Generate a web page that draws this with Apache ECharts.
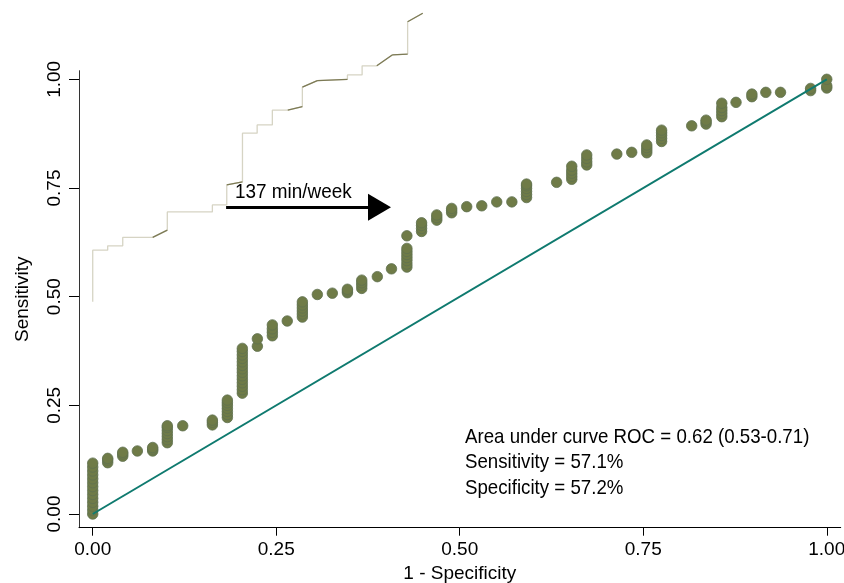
<!DOCTYPE html>
<html>
<head>
<meta charset="utf-8">
<script src="https://cdn.jsdelivr.net/npm/echarts@6/dist/echarts.min.js"></script>
<style>
html,body{margin:0;padding:0;background:#fff;}
#chart{width:844px;height:583px;}
</style>
</head>
<body>
<div id="chart"></div>
<script>
// ---- data ----
const tickValues = [0, 0.25, 0.5, 0.75, 1];
const fprPoints = [
  0,0,0,0,0,0,0,0,0,0,0,0,0,0,
  0.0204,0.0204,0.0204,
  0.0409,0.0409,0.0409,
  0.0608,
  0.0817,0.0817,0.0817,
  0.1016,0.1016,0.1016,0.1016,0.1016,0.1016,0.1016,
  0.1226,
  0.163,0.163,0.163,
  0.1834,0.1834,0.1834,0.1834,0.1834,0.1834,0.1834,
  0.2038,0.2038,0.2038,0.2038,0.2038,0.2038,0.2038,0.2038,0.2038,0.2038,0.2038,0.2038,0.2038,0.2038,
  0.2243,0.2243,
  0.2447,0.2447,0.2447,0.2447,
  0.265,
  0.2856,0.2856,0.2856,0.2856,0.2856,0.2856,
  0.306,
  0.3264,
  0.347,0.347,0.347,
  0.3665,0.3665,0.3665,0.3665,
  0.3877,
  0.407,
  0.428,0.428,0.428,0.428,0.428,0.428,0.428,0.428,
  0.448,0.448,0.448,0.448,
  0.4687,0.4687,0.4687,
  0.489,0.489,0.489,
  0.5095,
  0.53,
  0.5504,
  0.571,
  0.591,0.591,0.591,0.591,0.591,0.591,
  0.632,
  0.6526,0.6526,0.6526,0.6526,0.6526,
  0.673,0.673,0.673,0.673,
  0.714,
  0.7343,
  0.7548,0.7548,0.7548,0.7548,
  0.775,0.775,0.775,0.775,0.775,
  0.816,
  0.8356,0.8356,0.8356,
  0.857,0.857,0.857,0.857,0.857,
  0.8764,
  0.898,0.898,
  0.917,
  0.937,
  0.978,0.978,
  1,1,1
];
const sensPoints = [
  0,0.009,0.018,0.027,0.036,0.045,0.054,0.063,0.072,0.081,0.09,0.099,0.108,0.117,
  0.118,0.124,0.128,
  0.133,0.138,0.142,
  0.145,
  0.145,0.149,0.153,
  0.164,0.171,0.178,0.185,0.192,0.199,0.203,
  0.203,
  0.205,0.211,0.216,
  0.222,0.229,0.236,0.243,0.25,0.256,0.262,
  0.278,0.286,0.294,0.302,0.31,0.318,0.326,0.334,0.342,0.35,0.358,0.366,0.374,0.381,
  0.386,0.403,
  0.41,0.418,0.426,0.435,
  0.444,
  0.453,0.46,0.467,0.474,0.481,0.488,
  0.505,
  0.508,
  0.509,0.513,0.517,
  0.519,0.526,0.532,0.538,
  0.546,
  0.564,
  0.568,0.575,0.583,0.59,0.597,0.604,0.611,0.64,
  0.65,0.657,0.664,0.67,
  0.676,0.682,0.688,
  0.693,0.698,0.703,
  0.707,
  0.709,
  0.718,
  0.718,
  0.728,0.735,0.742,0.749,0.755,0.759,
  0.763,
  0.77,0.777,0.784,0.791,0.8,
  0.803,0.81,0.818,0.826,
  0.828,
  0.832,
  0.831,0.837,0.843,0.849,
  0.857,0.864,0.871,0.877,0.883,
  0.893,
  0.897,0.902,0.906,
  0.914,0.921,0.928,0.935,0.945,
  0.947,
  0.96,0.966,
  0.97,
  0.97,
  0.974,0.979,
  0.98,0.985,1
];
// thin stepped trace in the upper left
const stepX = [0,0,0.0204,0.0204,0.0409,0.0409,0.0817,0.1016,0.1016,0.163,0.163,0.1826,0.1826,0.204,0.204,0.224,0.224,0.2447,0.2447,0.2657,0.2856,0.2856,0.306,0.347,0.347,0.367,0.367,0.387,0.408,0.429,0.429,0.4496];
const stepY = [0.488,0.607,0.607,0.617,0.617,0.6365,0.6365,0.653,0.695,0.695,0.711,0.711,0.757,0.764,0.876,0.876,0.895,0.895,0.929,0.929,0.937,0.982,0.997,1.0,1.01,1.01,1.031,1.031,1.056,1.058,1.1325,1.152];
const diagX = [0, 1];
const diagY = [0, 1];
const arrowStart = [0.1817, 0.7056];
const arrowEnd = [0.3907, 0.7056];
const arrowLabel = '137 min/week';
const noteLines = ['Area under curve ROC = 0.62 (0.53-0.71)', 'Sensitivity = 57.1%', 'Specificity = 57.2%'];

// ---- build ----
const FONT = "'Liberation Sans', Arial, Helvetica, sans-serif";
const scatterData = fprPoints.map((x, i) => [x, sensPoints[i]]);
const stepData = stepX.map((x, i) => [x, stepY[i]]);
// darker slanted pieces
const slantData = [];
for (let i = 1; i < stepX.length; i++) {
  if (stepX[i] !== stepX[i - 1] && stepY[i] !== stepY[i - 1]) {
    slantData.push([stepX[i - 1], stepY[i - 1]], [stepX[i], stepY[i]], [null, null]);
  }
}
const diagData = diagX.map((x, i) => [x, diagY[i]]);
const fmt = v => v.toFixed(2);

const chart = echarts.init(document.getElementById('chart'), null, {renderer: 'canvas'});
chart.setOption({
  animation: false,
  backgroundColor: '#ffffff',
  textStyle: {fontFamily: FONT},
  grid: {left: 79, right: 3.3, top: 70.7, bottom: 55.3, containLabel: false, outerBoundsMode: 'none'},
  xAxis: {
    type: 'value', min: -0.0187, max: 1.019,
    name: '1 - Specificity', nameLocation: 'middle', nameGap: 33,
    nameTextStyle: {fontFamily: FONT, fontSize: 19, color: '#000'},
    axisLine: {show: true, onZero: false, lineStyle: {color: '#000', width: 1}},
    axisTick: {show: true, length: 8, lineStyle: {color: '#000'}, customValues: tickValues},
    axisLabel: {show: true, fontFamily: FONT, fontSize: 19, color: '#000', margin: 13, customValues: tickValues, formatter: fmt},
    splitLine: {show: false}
  },
  yAxis: {
    type: 'value', min: -0.0315, max: 1.0198,
    name: 'Sensitivity', nameLocation: 'middle', nameGap: 47, nameRotate: 90,
    nameTextStyle: {fontFamily: FONT, fontSize: 19, color: '#000'},
    axisLine: {show: true, onZero: false, lineStyle: {color: '#333', width: 1}},
    axisTick: {show: true, length: 10, lineStyle: {color: '#000'}, customValues: tickValues},
    axisLabel: {show: true, rotate: 90, fontFamily: FONT, fontSize: 19, color: '#000', margin: 15, customValues: tickValues, formatter: fmt},
    splitLine: {show: false}
  },
  series: [
    {
      type: 'line', data: stepData, symbol: 'none', clip: false, z: 1,
      lineStyle: {color: '#d6d4c4', width: 1.3}
    },
    {
      type: 'line', data: slantData, symbol: 'none', clip: false, z: 1, connectNulls: false,
      lineStyle: {color: '#7c7a55', width: 1.3}
    },
    {
      type: 'scatter', data: scatterData, symbol: 'circle', symbolSize: 10.5, z: 2,
      itemStyle: {color: '#6f7b47', borderColor: '#5f7150', borderWidth: 0.8, opacity: 1}
    },
    {
      type: 'line', data: diagData, symbol: 'none', z: 3,
      lineStyle: {color: '#0f7a6f', width: 2},
      markLine: {
        silent: true, symbol: ['none', 'triangle'], symbolSize: [27, 23],
        lineStyle: {color: '#000', width: 3, type: 'solid'},
        itemStyle: {color: '#000'},
        label: {show: false},
        data: [[{coord: arrowStart}, {coord: arrowEnd}]]
      }
    }
  ],
  graphic: [
    {type: 'text', x: 235, y: 182, scaleX: 0.9, z: 10, style: {text: arrowLabel, font: '21px ' + FONT, fill: '#000'}},
    {type: 'text', x: 465, y: 424, scaleX: 0.89, z: 10, style: {text: noteLines.join('\n'), font: '21px ' + FONT, lineHeight: 25.5, fill: '#000'}}
  ]
});
</script>
</body>
</html>
